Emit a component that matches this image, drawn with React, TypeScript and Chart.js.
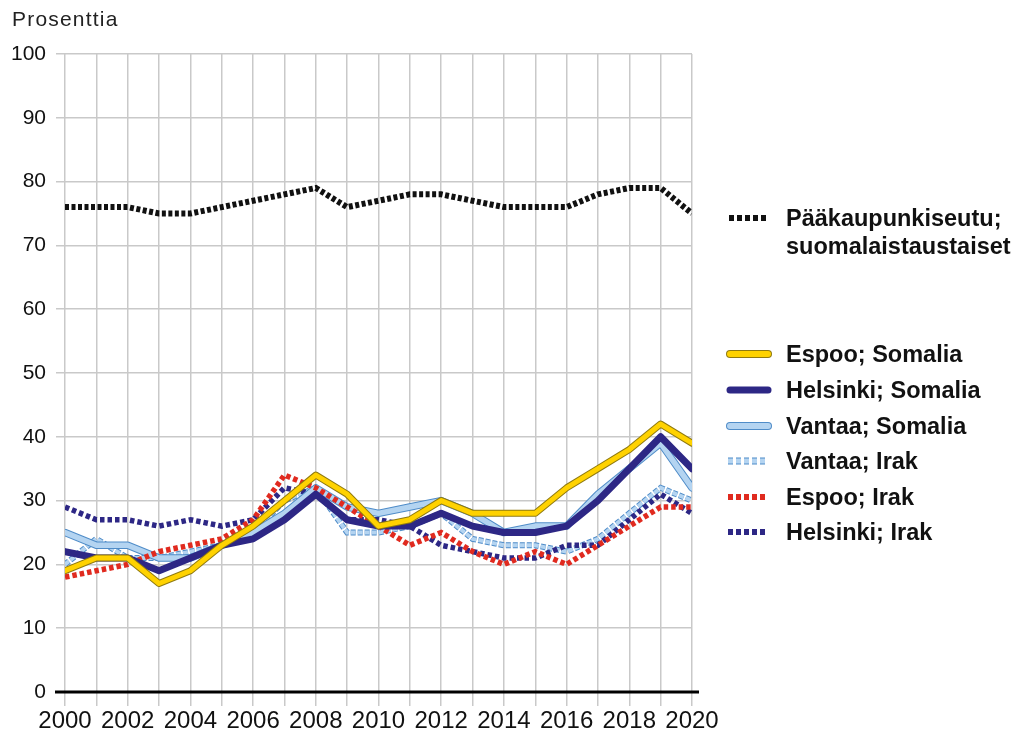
import React, { useEffect, useRef } from "react";
import { Chart, registerables } from "chart.js";

Chart.register(...registerables);

const years = [2000, 2001, 2002, 2003, 2004, 2005, 2006, 2007, 2008, 2009, 2010, 2011, 2012, 2013, 2014, 2015, 2016, 2017, 2018, 2019, 2020];
const xTickLabels = ["2000", "2002", "2004", "2006", "2008", "2010", "2012", "2014", "2016", "2018", "2020"];
const yTicks = [0, 10, 20, 30, 40, 50, 60, 70, 80, 90, 100];

const capitalFinnish = [76, 76, 76, 75, 75, 76, 77, 78, 79, 76, 77, 78, 78, 77, 76, 76, 76, 78, 79, 79, 75];
const espooSomalia = [19, 21, 21, 17, 19, 23, 26, 30, 34, 31, 26, 27, 30, 28, 28, 28, 32, 35, 38, 42, 39];
const helsinkiSomalia = [22, 21, 21, 19, 21, 23, 24, 27, 31, 27, 26, 26, 28, 26, 25, 25, 26, 30, 35, 40, 35];
const vantaaSomalia = [25, 23, 23, 21, 21, 23, 25, 28, 32, 29, 28, 29, 30, 28, 25, 26, 26, 31, 35, 39, 32];
const vantaaIrak = [20, 24, 21, 21, 22, 23, 25, 30, 32, 25, 25, 26, 28, 24, 23, 23, 22, 24, 28, 32, 30];
const espooIrak = [18, 19, 20, 22, 23, 24, 27, 34, 32, 29, 26, 23, 25, 22, 20, 22, 20, 23, 26, 29, 29];
const helsinkiIrak = [29, 27, 27, 26, 27, 26, 27, 32, 31, 27, 27, 26, 23, 22, 21, 21, 23, 23, 27, 31, 28];

const seriesLabels = [
  "Pääkaupunkiseutu; suomalaistaustaiset",
  "Espoo; Somalia",
  "Helsinki; Somalia",
  "Vantaa; Somalia",
  "Vantaa; Irak",
  "Espoo; Irak",
  "Helsinki; Irak",
];

const BLACK = "#111111";
const YELLOW = "#ffd200";
const YELLOW_EDGE = "#8f7a10";
const NAVY = "#2d2785";
const LIGHT = "#b4d4f1";
const LIGHT_EDGE = "#4f8cc8";
const RED = "#e02a1f";

const FONT = '"Liberation Sans", Arial, sans-serif';

function pts(vals: number[]) {
  return vals.map((v, i) => ({ x: years[i], y: v }));
}

const zeroLinePlugin = {
  id: "zeroLine",
  afterDraw(chart: any) {
    const ctx = chart.ctx;
    const y = chart.scales.y.getPixelForValue(0);
    ctx.save();
    ctx.strokeStyle = "#000";
    ctx.lineWidth = 3;
    ctx.beginPath();
    ctx.moveTo(55, y);
    ctx.lineTo(699, y);
    ctx.stroke();
    ctx.restore();
  },
};

function Sample({ kind, color, edge }: { kind: string; color: string; edge?: string }) {
  if (kind === "solid") {
    return (
      <svg width={46} height={14} style={{ display: "block" }}>
        {edge ? <line x1={4} y1={7} x2={42} y2={7} stroke={edge} strokeWidth={8} strokeLinecap="round" /> : null}
        <line x1={4} y1={7} x2={42} y2={7} stroke={color} strokeWidth={edge ? 6 : 7} strokeLinecap="round" />
      </svg>
    );
  }
  return (
    <svg width={46} height={14} style={{ display: "block" }}>
      {edge ? <line x1={2} y1={7} x2={41} y2={7} stroke={edge} strokeWidth={7} strokeDasharray="5 3" /> : null}
      <line x1={2} y1={7} x2={41} y2={7} stroke={color} strokeWidth={edge ? 5 : 6} strokeDasharray="5 3" />
    </svg>
  );
}

export default function App() {
  const ref = useRef<HTMLCanvasElement | null>(null);

  useEffect(() => {
    if (!ref.current) return;
    const solid = (data: number[], color: string, width: number) => ({
      data: pts(data),
      borderColor: color,
      backgroundColor: color,
      borderWidth: width,
      pointRadius: 0,
      tension: 0,
      borderJoinStyle: "round" as const,
      borderCapStyle: "round" as const,
      fill: false,
    });
    const dotted = (data: number[], color: string, width: number, dash: number[]) => ({
      data: pts(data),
      borderColor: color,
      backgroundColor: color,
      borderWidth: width,
      borderDash: dash,
      pointRadius: 0,
      tension: 0,
      borderJoinStyle: "miter" as const,
      borderCapStyle: "butt" as const,
      fill: false,
    });

    // first dataset is drawn on top
    const datasets: any[] = [
      { label: seriesLabels[0], ...dotted(capitalFinnish, BLACK, 6, [4, 2.5]) },
      { label: seriesLabels[1], ...solid(espooSomalia, YELLOW, 5) },
      { label: seriesLabels[1] + " edge", ...solid(espooSomalia, YELLOW_EDGE, 7) },
      { label: seriesLabels[2], ...solid(helsinkiSomalia, NAVY, 7) },
      { label: seriesLabels[5], ...dotted(espooIrak, RED, 5.5, [4.5, 3]) },
      { label: seriesLabels[3], ...solid(vantaaSomalia, LIGHT, 5.5) },
      { label: seriesLabels[3] + " edge", ...solid(vantaaSomalia, LIGHT_EDGE, 7.5) },
      { label: seriesLabels[6], ...dotted(helsinkiIrak, NAVY, 5.5, [4.5, 3]) },
      { label: seriesLabels[4], ...dotted(vantaaIrak, LIGHT, 4, [5, 2]) },
      { label: seriesLabels[4] + " edge", ...dotted(vantaaIrak, LIGHT_EDGE, 6, [5, 2]) },
    ];

    const chart = new Chart(ref.current, {
      type: "line",
      data: { datasets },
      plugins: [zeroLinePlugin],
      options: {
        animation: false,
        responsive: false,
        devicePixelRatio: 1,
        layout: { padding: { top: 54, right: 323, left: 0, bottom: 0 } },
        plugins: { legend: { display: false }, tooltip: { enabled: false } },
        scales: {
          x: {
            type: "linear",
            min: years[0],
            max: years[years.length - 1],
            afterFit: (axis: any) => {
              axis.height = 44;
            },
            afterBuildTicks: (axis: any) => {
              axis.ticks = years.map((v) => ({ value: v }));
            },
            ticks: {
              autoSkip: false,
              maxRotation: 0,
              padding: 1,
              color: BLACK,
              font: { family: FONT, size: 24 },
              callback: (v: any) => {
                const s = String(v);
                return xTickLabels.includes(s) ? s : "";
              },
            },
            grid: { color: "#c9c9c9", lineWidth: 1.5, tickLength: 14 },
            border: { display: false },
          },
          y: {
            min: 0,
            max: 100,
            afterFit: (axis: any) => {
              axis.width = 65;
            },
            afterBuildTicks: (axis: any) => {
              axis.ticks = yTicks.map((v) => ({ value: v }));
            },
            ticks: {
              padding: 10,
              color: BLACK,
              font: { family: FONT, size: 21 },
            },
            grid: { color: "#c9c9c9", lineWidth: 1.5, tickLength: 9 },
            border: { display: false },
          },
        },
      } as any,
    });
    return () => chart.destroy();
  }, []);

  const legendText: React.CSSProperties = {
    font: `bold 23.5px ${FONT}`,
    color: BLACK,
    lineHeight: "28px",
    whiteSpace: "nowrap",
  };

  const items = [
    { y: 354, label: seriesLabels[1], kind: "solid", color: YELLOW, edge: YELLOW_EDGE },
    { y: 390, label: seriesLabels[2], kind: "solid", color: NAVY },
    { y: 426, label: seriesLabels[3], kind: "solid", color: LIGHT, edge: LIGHT_EDGE },
    { y: 461, label: seriesLabels[4], kind: "dot", color: LIGHT, edge: LIGHT_EDGE },
    { y: 497, label: seriesLabels[5], kind: "dot", color: RED },
    { y: 532, label: seriesLabels[6], kind: "dot", color: NAVY },
  ];

  return (
    <div style={{ position: "fixed", left: 0, top: 0, width: 1015, height: 736, background: "#fff", overflow: "hidden" }}>
      <canvas ref={ref} width={1015} height={736} style={{ position: "absolute", left: 0, top: 0 }} />
      <div style={{ position: "absolute", left: 12, top: 7, font: `21px ${FONT}`, letterSpacing: "1.2px", color: "#222" }}>Prosenttia</div>
      <div style={{ position: "absolute", left: 727, top: 211 }}>
        <Sample kind="dot" color={BLACK} />
      </div>
      <div style={{ position: "absolute", left: 786, top: 204, ...legendText }}>
        Pääkaupunkiseutu;
        <br />
        suomalaistaustaiset
      </div>
      {items.map((it) => (
        <React.Fragment key={it.label}>
          <div style={{ position: "absolute", left: 726, top: it.y - 7 }}>
            <Sample kind={it.kind} color={it.color} edge={it.edge} />
          </div>
          <div style={{ position: "absolute", left: 786, top: it.y - 14, ...legendText }}>{it.label}</div>
        </React.Fragment>
      ))}
    </div>
  );
}
